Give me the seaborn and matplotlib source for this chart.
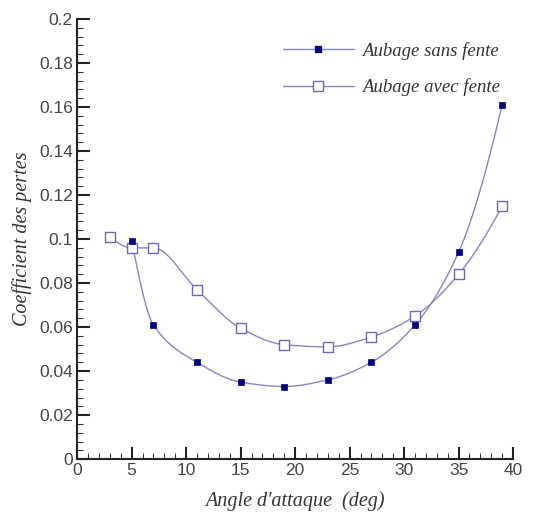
import numpy as np
import pandas as pd
import matplotlib
matplotlib.use("Agg")
import matplotlib.pyplot as plt
from matplotlib.lines import Line2D
from matplotlib.ticker import MultipleLocator
import seaborn as sns

# Data
angle_sans = [5, 7, 11, 15, 19, 23, 27, 31, 35, 39]
coef_sans = [0.099, 0.061, 0.044, 0.035, 0.033, 0.036, 0.044, 0.061, 0.094, 0.161]
angle_avec = [3, 5, 7, 11, 15, 19, 23, 27, 31, 35, 39]
coef_avec = [0.101, 0.096, 0.096, 0.077, 0.0595, 0.052, 0.051, 0.0555, 0.065, 0.084, 0.115]
label_sans = "Aubage sans fente"
label_avec = "Aubage avec fente"
xticks = [0, 5, 10, 15, 20, 25, 30, 35, 40]
yticks = [0, 0.02, 0.04, 0.06, 0.08, 0.1, 0.12, 0.14, 0.16, 0.18, 0.2]


def pchip(x, y, n=400):
    x = np.asarray(x, float)
    y = np.asarray(y, float)
    h = np.diff(x)
    delta = np.diff(y) / h
    m = len(x)
    d = np.zeros(m)
    for k in range(1, m - 1):
        if delta[k - 1] * delta[k] > 0:
            w1 = 2 * h[k] + h[k - 1]
            w2 = h[k] + 2 * h[k - 1]
            d[k] = (w1 + w2) / (w1 / delta[k - 1] + w2 / delta[k])
        else:
            d[k] = 0.0

    def end(h0, h1, d0, d1):
        dd = ((2 * h0 + h1) * d0 - h0 * d1) / (h0 + h1)
        if np.sign(dd) != np.sign(d0):
            dd = 0.0
        elif np.sign(d0) != np.sign(d1) and abs(dd) > abs(3 * d0):
            dd = 3 * d0
        return dd

    d[0] = end(h[0], h[1], delta[0], delta[1])
    d[-1] = end(h[-1], h[-2], delta[-1], delta[-2])
    xs = np.linspace(x[0], x[-1], n)
    ys = np.empty_like(xs)
    for j, xv in enumerate(xs):
        i = min(np.searchsorted(x, xv, side="right") - 1, m - 2)
        t = (xv - x[i]) / h[i]
        h00 = 2 * t ** 3 - 3 * t ** 2 + 1
        h10 = t ** 3 - 2 * t ** 2 + t
        h01 = -2 * t ** 3 + 3 * t ** 2
        h11 = t ** 3 - t ** 2
        ys[j] = h00 * y[i] + h10 * h[i] * d[i] + h01 * y[i + 1] + h11 * h[i] * d[i + 1]
    return xs, ys


sns.set_theme(style="ticks")
plt.rcParams["font.family"] = ["Liberation Sans", "DejaVu Sans"]

fig = plt.figure(figsize=(5.47, 5.13), dpi=100)
ax = fig.add_axes([0.141, 0.105, 0.797, 0.858])

line_col = "#8585c8"
sx, sy = pchip(angle_sans, coef_sans)
vx, vy = pchip(angle_avec, coef_avec)
sns.lineplot(x=sx, y=sy, ax=ax, color=line_col, lw=1.0, sort=False)
sns.lineplot(x=vx, y=vy, ax=ax, color=line_col, lw=1.0, sort=False)

df_s = pd.DataFrame({"x": angle_sans, "y": coef_sans})
df_a = pd.DataFrame({"x": angle_avec, "y": coef_avec})
ax.scatter(df_a["x"], df_a["y"], marker="s", s=45, facecolor="white",
           edgecolor="#6a6ab8", linewidth=1.0, zorder=3)
sns.scatterplot(data=df_s, x="x", y="y", ax=ax, marker="s", s=22,
                color="#000080", edgecolor="#000080", linewidth=0.5, zorder=4)

ax.set_xlim(0, 40)
ax.set_ylim(0, 0.2)
ax.set_xticks(xticks)
ax.set_xticklabels([str(t) for t in xticks])
ax.set_yticks(yticks)
ax.set_yticklabels(["0"] + [f"{t:g}" for t in yticks[1:]])
ax.xaxis.set_minor_locator(MultipleLocator(1))
ax.yaxis.set_minor_locator(MultipleLocator(0.004))
ax.tick_params(which="major", direction="in", length=9, width=1.5,
               labelsize=12.5, labelcolor="#444444", color="#222222", pad=3)
ax.tick_params(which="minor", direction="in", length=4, width=0.8, color="#333333")
for s in ["top", "right"]:
    ax.spines[s].set_visible(False)
for s in ["left", "bottom"]:
    ax.spines[s].set_linewidth(1.5)
    ax.spines[s].set_color("#222222")

serif = ["Liberation Serif", "DejaVu Serif"]
ax.set_xlabel("Angle d'attaque  (deg)", fontsize=14.5, fontstyle="italic",
              family=serif, color="#333333", labelpad=9)
ax.set_ylabel("Coefficient des pertes", fontsize=14.5, fontstyle="italic",
              family=serif, color="#333333", labelpad=5)

handles = [
    Line2D([], [], color=line_col, lw=1.0, marker="s", markersize=4.5,
           markerfacecolor="#000080", markeredgecolor="#000080"),
    Line2D([], [], color=line_col, lw=1.0, marker="s", markersize=6.5,
           markerfacecolor="white", markeredgecolor="#6a6ab8"),
]
leg = ax.legend(handles, [label_sans, label_avec], loc="upper left",
                bbox_to_anchor=(0.454, 0.965), frameon=False, handlelength=3.8,
                handletextpad=0.45, labelspacing=1.0, borderaxespad=0,
                prop={"family": serif, "style": "italic", "size": 13.5})
for t in leg.get_texts():
    t.set_color("#333333")

fig.savefig("out.png", dpi=100)
